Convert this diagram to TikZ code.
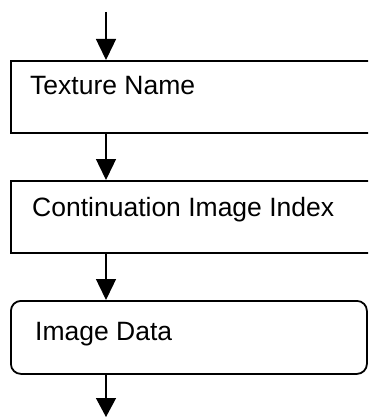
\documentclass[tikz,border=0pt]{standalone}
\usepackage{fontspec}
\setmainfont{Liberation Sans}
\usetikzlibrary{arrows.meta}
\begin{document}
\begin{tikzpicture}[x=1pt,y=1pt,
  box/.style={draw=black, line width=1.8pt, anchor=north west, inner sep=0pt, minimum width=#1, minimum height=72pt},
  lbl/.style={anchor=base west, inner sep=0pt, font=\fontsize{26.5}{30}\selectfont},
  arr/.style={line width=1.4pt, -{Triangle[length=21pt,width=20pt]}}]
\useasboundingbox (0,0) rectangle (368,-417);
\clip (0,0) rectangle (368,-417);
\node[box=362pt] (b1) at (10,-60) {};
\node[box=362pt] (b2) at (10,-180) {};
\node[box=356pt, rounded corners=10pt, minimum height=73pt] (b3) at (10,-300) {};
\node[lbl] (t1) at (30,-95) {Texture Name};
\node[lbl] (t2) at (32,-216) {Continuation Image Index};
\node[lbl] (t3) at (35,-340) {Image Data};
\coordinate (top) at (106,-12);
\coordinate (bot) at (106,-417);
\draw[arr] (top) -- (top |- b1.north);
\draw[arr] (top |- b1.south) -- (top |- b2.north);
\draw[arr] (top |- b2.south) -- (top |- b3.north);
\draw[line width=1.4pt, -{Triangle[length=19pt,width=20pt]}] (top |- b3.south) -- (bot);
\end{tikzpicture}
\end{document}
